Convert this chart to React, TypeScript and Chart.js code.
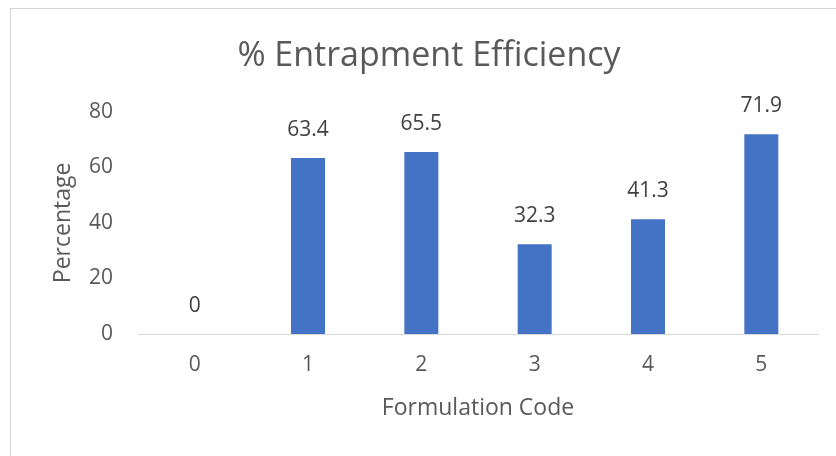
import React, { useEffect, useRef } from "react";
import { Chart, registerables } from "chart.js";

Chart.register(...registerables);

const categories = ["0", "1", "2", "3", "4", "5"];
const values = [0, 63.4, 65.5, 32.3, 41.3, 71.9];
const yTicks = [0, 20, 40, 60, 80];

const TEXT = "#595959";
const FONT = "'Open Sans', sans-serif";

const dataLabels = {
  id: "dataLabels",
  afterDatasetsDraw(chart: any) {
    const ctx = chart.ctx;
    const meta = chart.getDatasetMeta(0);
    ctx.save();
    ctx.font = `21px ${FONT}`;
    ctx.fillStyle = "#404040";
    ctx.textAlign = "center";
    ctx.textBaseline = "middle";
    meta.data.forEach((bar: any, i: number) => {
      ctx.fillText(String(values[i]), bar.x, bar.y - 28);
    });
    ctx.restore();
  },
};

export default function App() {
  const ref = useRef<HTMLCanvasElement>(null);
  useEffect(() => {
    if (!ref.current) return;
    const chart = new Chart(ref.current, {
      type: "bar",
      data: {
        labels: categories,
        datasets: [
          {
            data: values,
            backgroundColor: "#4472C4",
            barPercentage: 0.3,
            categoryPercentage: 1,
          },
        ],
      },
      options: {
        animation: false,
        responsive: true,
        maintainAspectRatio: false,
        layout: { padding: { left: 40, right: 18, top: 0, bottom: 0 } },
        plugins: {
          legend: { display: false },
          tooltip: { enabled: false },
          title: {
            display: true,
            text: "% Entrapment Efficiency",
            color: TEXT,
            font: { family: FONT, size: 34, weight: "normal" as any, lineHeight: 1.2 },
            padding: { top: 36, bottom: 35 },
          },
        },
        scales: {
          x: {
            grid: { display: false, drawTicks: false },
            border: { display: true, color: "#d9d9d9", width: 1 },
            ticks: { color: TEXT, font: { family: FONT, size: 21 }, padding: 18 },
            title: {
              display: true,
              text: "Formulation Code",
              color: TEXT,
              font: { family: FONT, size: 23, lineHeight: 1.2 },
              padding: 34,
            },
            afterFit(scale: any) {
              scale.height = 122;
            },
          },
          y: {
            min: 0,
            max: 80,
            afterBuildTicks(scale: any) {
              scale.ticks = yTicks.map((v) => ({ value: v }));
            },
            grid: { display: false, drawTicks: false },
            border: { display: false },
            ticks: { color: TEXT, font: { family: FONT, size: 21 }, padding: 25 },
            title: {
              display: true,
              text: "Percentage",
              color: TEXT,
              font: { family: FONT, size: 23, lineHeight: 1.2 },
              padding: 10,
            },
            afterFit(scale: any) {
              scale.width = 98;
            },
          },
        },
      },
      plugins: [dataLabels],
    });
    return () => chart.destroy();
  }, []);

  return (
    <div style={{ position: "fixed", left: 0, top: 0, width: 836, height: 456, overflow: "hidden", background: "#fff" }}>
      <div
        style={{
          position: "absolute",
          left: 10,
          top: 8,
          width: 900,
          height: 500,
          border: "1px solid #d4d4d4",
          boxSizing: "border-box",
        }}
      />
      <div style={{ position: "absolute", left: 0, top: 0, width: 836, height: 456 }}>
        <canvas ref={ref} />
      </div>
    </div>
  );
}
